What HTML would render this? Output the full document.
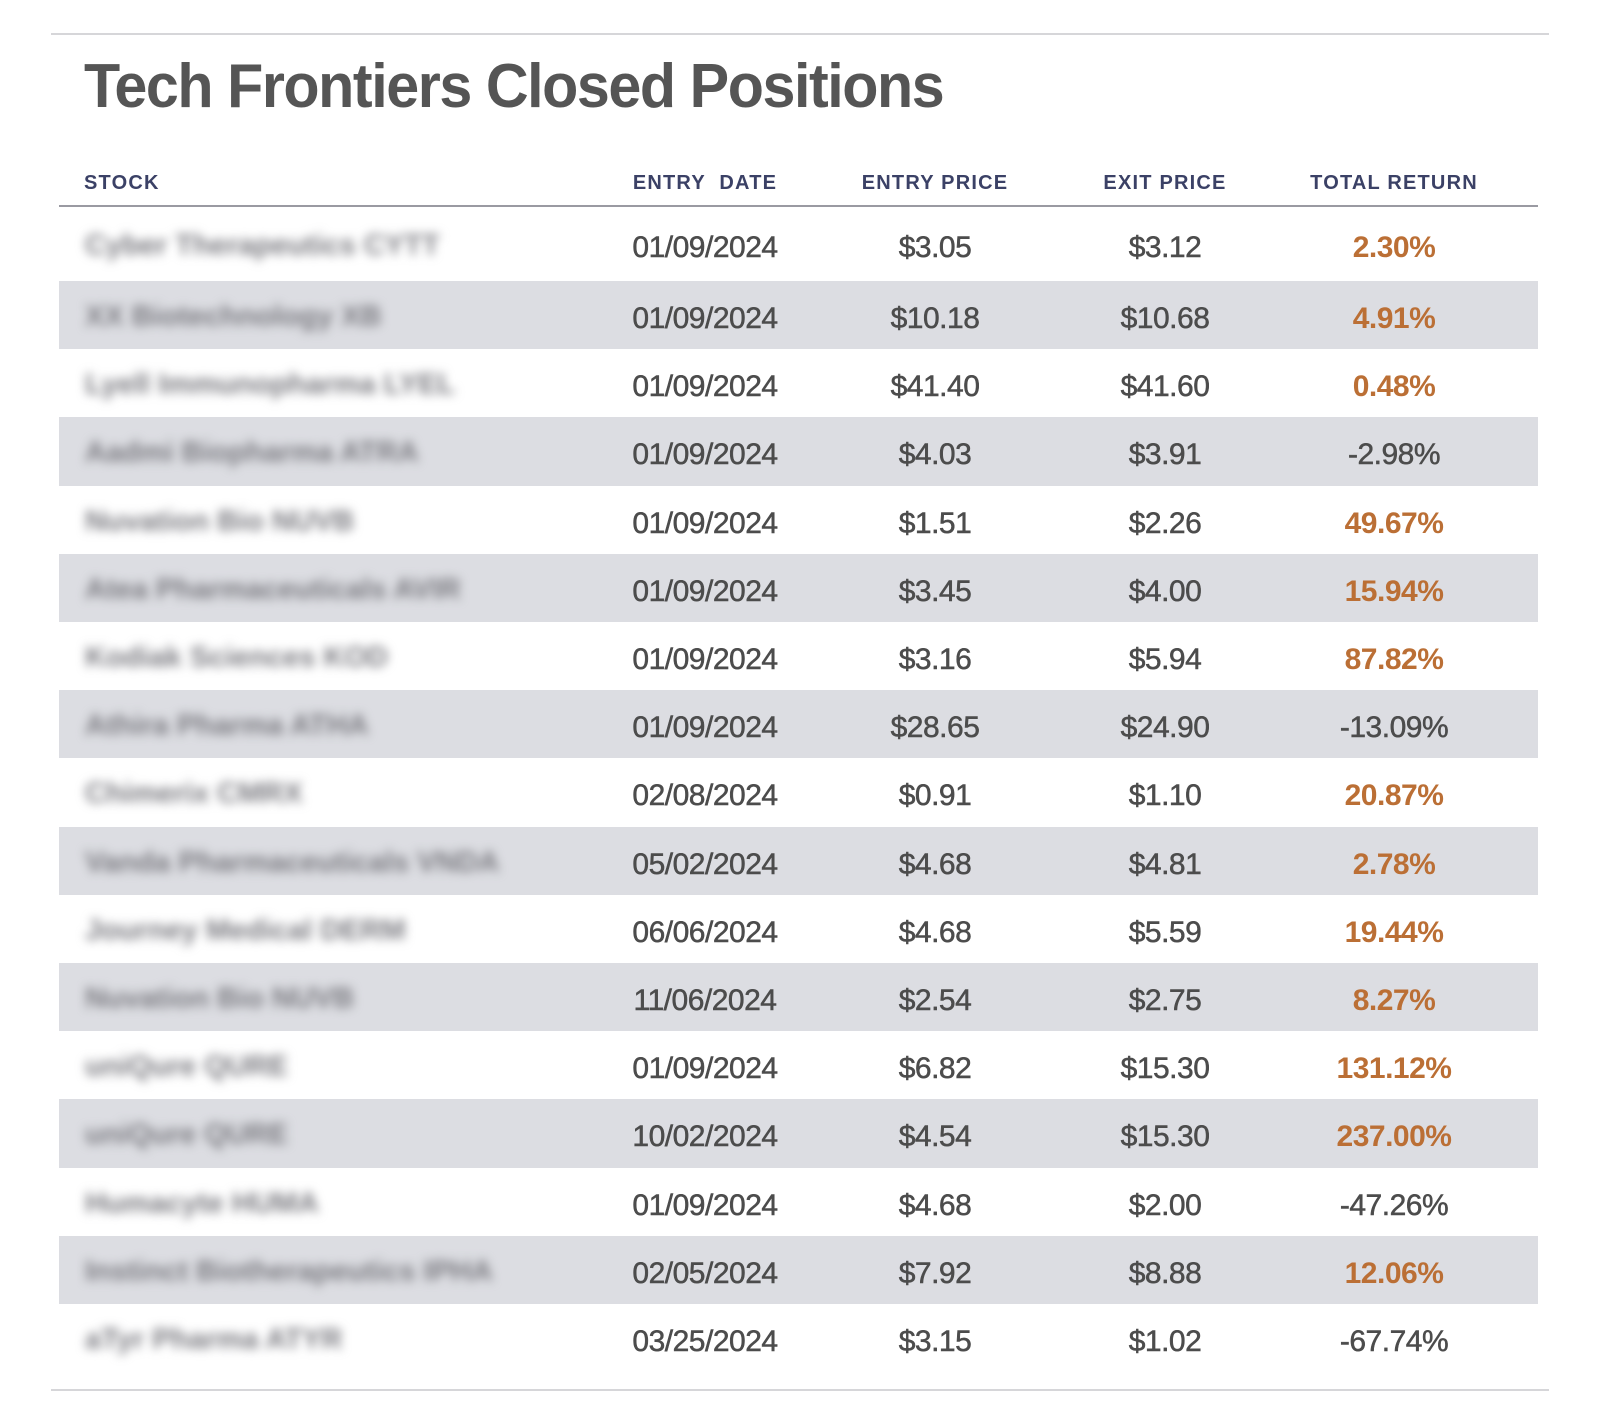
<!DOCTYPE html>
<html><head><style>
body{margin:0;width:1600px;height:1418px;background:#fff;position:relative;font-family:"Liberation Sans",sans-serif;overflow:hidden}
.ln{position:absolute;height:2px;background:#d6d6d9}
h1{position:absolute;left:84px;top:51px;margin:0;font-size:62px;font-weight:bold;color:#555;letter-spacing:-1.5px;transform:scaleX(0.955);transform-origin:left}
.hd{position:absolute;top:172px;font-size:20px;font-weight:bold;color:#3b4166;letter-spacing:1.2px;transform:translateX(-50%);white-space:nowrap}
.row{position:absolute;left:59px;width:1487px;height:68.2px}
.g{background:#dcdde2}
.c{position:absolute;top:calc(50% + 4px);transform:translate(-50%,-50%);font-size:30px;color:#4c4c4c;white-space:nowrap;letter-spacing:-0.5px;-webkit-text-stroke:0.5px #4c4c4c}
.o{color:#bb6f35;font-weight:bold;-webkit-text-stroke:0}
.s{position:absolute;left:26px;top:calc(50% + 2px);transform:translateY(-50%);font-size:29px;font-weight:bold;color:#7a7a80;filter:blur(5px);white-space:nowrap}
</style></head><body>
<div class="ln" style="left:51px;width:1498px;top:33px"></div>
<h1>Tech Frontiers Closed Positions</h1>
<div class="hd" style="left:84px;transform:none">STOCK</div>
<div class="hd" style="left:705px">ENTRY&nbsp; DATE</div>
<div class="hd" style="left:935px">ENTRY PRICE</div>
<div class="hd" style="left:1165px">EXIT PRICE</div>
<div class="hd" style="left:1394px">TOTAL RETURN</div>
<div class="ln" style="left:59px;width:1479px;top:205px;height:1.5px;background:#9a9aa2"></div>
<div id="t"></div>
<div class="ln" style="left:51px;width:1498px;top:1389px"></div>
<script>
const d=[["Cyber Therapeutics CYTT","01/09/2024","$3.05","$3.12","2.30%",1],
["XX Biotechnology XB","01/09/2024","$10.18","$10.68","4.91%",1],
["Lyell Immunopharma LYEL","01/09/2024","$41.40","$41.60","0.48%",1],
["Aadmi Biopharma ATRA","01/09/2024","$4.03","$3.91","-2.98%",0],
["Nuvation Bio NUVB","01/09/2024","$1.51","$2.26","49.67%",1],
["Atea Pharmaceuticals AVIR","01/09/2024","$3.45","$4.00","15.94%",1],
["Kodiak Sciences KOD","01/09/2024","$3.16","$5.94","87.82%",1],
["Athira Pharma ATHA","01/09/2024","$28.65","$24.90","-13.09%",0],
["Chimerix CMRX","02/08/2024","$0.91","$1.10","20.87%",1],
["Vanda Pharmaceuticals VNDA","05/02/2024","$4.68","$4.81","2.78%",1],
["Journey Medical DERM","06/06/2024","$4.68","$5.59","19.44%",1],
["Nuvation Bio NUVB","11/06/2024","$2.54","$2.75","8.27%",1],
["uniQure QURE","01/09/2024","$6.82","$15.30","131.12%",1],
["uniQure QURE","10/02/2024","$4.54","$15.30","237.00%",1],
["Humacyte HUMA","01/09/2024","$4.68","$2.00","-47.26%",0],
["Instinct Biotherapeutics IPHA","02/05/2024","$7.92","$8.88","12.06%",1],
["aTyr Pharma ATYR","03/25/2024","$3.15","$1.02","-67.74%",0]];
let h="";d.forEach((r,i)=>{let top=i==0?207:281+(i-1)*68.2,ht=i==0?74:68.2;
h+=`<div class="row${i%2?' g':''}" style="top:${top}px;height:${ht}px;width:1479px"><div class="s">${r[0]}</div><div class="c" style="left:646px">${r[1]}</div><div class="c" style="left:876px">${r[2]}</div><div class="c" style="left:1106px">${r[3]}</div><div class="c${r[5]?' o':''}" style="left:1335px">${r[4]}</div></div>`});
document.getElementById("t").innerHTML=h;
</script>
</body></html>
